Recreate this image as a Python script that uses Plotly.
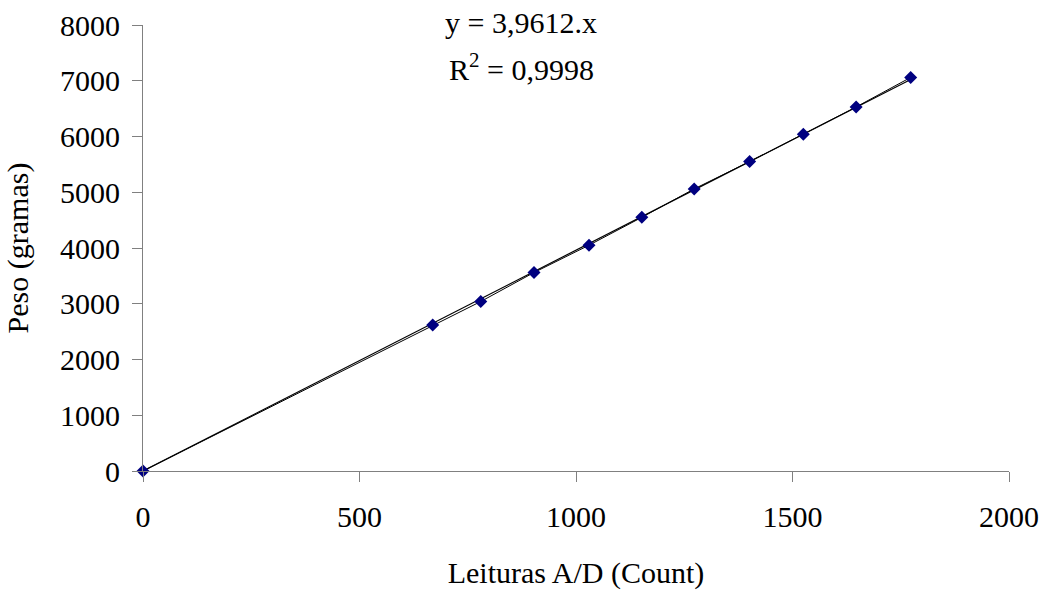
import plotly.graph_objects as go

# Calibration readings (A/D counts) and reference weights (grams)
leituras = [0, 669, 780, 903, 1030, 1152, 1273, 1401, 1525, 1647, 1773]
peso = [0, 2620, 3040, 3560, 4050, 4550, 5060, 5550, 6040, 6530, 7060]

# Linear fit through origin
slope = 3.9612
r2 = "0,9998"
x_ticks = [0, 500, 1000, 1500, 2000]
y_ticks = [0, 1000, 2000, 3000, 4000, 5000, 6000, 7000, 8000]

font_family = "Liberation Serif, Times New Roman, serif"
font_size = 30
axis_grey = "#808080"

fit_x = [0, max(leituras)]
fit_y = [slope * v for v in fit_x]

fig = go.Figure()
fig.add_trace(go.Scatter(
    x=fit_x, y=fit_y, mode="lines",
    line=dict(color="black", width=1.2),
    hoverinfo="skip", showlegend=False,
))
fig.add_trace(go.Scatter(
    x=leituras, y=peso, mode="lines+markers",
    line=dict(color="black", width=1),
    marker=dict(symbol="diamond", size=10, color="#000080",
                line=dict(width=0)),
    showlegend=False, cliponaxis=False,
))

# Regression equation and R² printed above the line
eq_font = dict(family=font_family, size=font_size, color="black")
fig.add_annotation(
    x=0.4366, y=1.006, xref="paper", yref="paper",
    text=f"y = {str(slope).replace('.', ',')}.x",
    showarrow=False, font=eq_font, xanchor="center", yanchor="middle",
)
fig.add_annotation(
    x=0.4366, y=0.906, xref="paper", yref="paper",
    text=f"R<sup>2</sup> = {r2}",
    showarrow=False, font=eq_font, xanchor="center", yanchor="middle",
)

fig.update_layout(
    width=1045, height=590,
    margin=dict(l=143, r=36, t=25, b=119),
    paper_bgcolor="white", plot_bgcolor="white",
    font=dict(family=font_family, size=font_size, color="black"),
)
fig.update_xaxes(
    range=[0, 2000], tickvals=x_ticks, ticktext=[str(v) for v in x_ticks],
    showgrid=False, zeroline=False, automargin=False,
    showline=True, linecolor=axis_grey, linewidth=1,
    ticks="outside", ticklen=10, tickcolor=axis_grey, tickwidth=1,
    ticklabelstandoff=9,
    title=dict(text="Leituras A/D (Count)", standoff=30,
               font=dict(family=font_family, size=font_size)),
)
fig.update_yaxes(
    range=[0, 8000], tickvals=y_ticks, ticktext=[str(v) for v in y_ticks],
    showgrid=False, zeroline=False, automargin=False,
    showline=True, linecolor=axis_grey, linewidth=1,
    ticks="outside", ticklen=10, tickcolor=axis_grey, tickwidth=1,
    ticklabelstandoff=6,
    title=dict(text="Peso (gramas)", standoff=22,
               font=dict(family=font_family, size=font_size)),
)

fig.write_html("out.html")
